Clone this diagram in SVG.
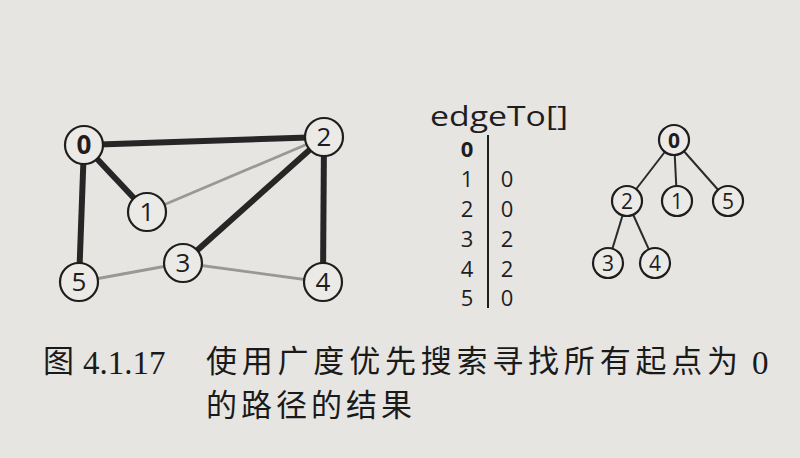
<svg xmlns="http://www.w3.org/2000/svg" width="800" height="458" viewBox="0 0 800 458">
<style>
.bg{fill:#e7e5e2}
.n{fill:#eceae7;stroke:#1e1e1e;stroke-width:2.2}
.nt{font-family:"Open Sans","Noto Sans",sans-serif;font-size:26px;fill:#1e1e1e;text-anchor:middle}
.tt{font-family:"Open Sans","Noto Sans",sans-serif;font-size:21px;fill:#1e1e1e;text-anchor:middle}
.thick{stroke:#262626;stroke-width:6;stroke-linecap:butt}
.thin{stroke:#9a9896;stroke-width:2.8}
.tree{stroke:#2a2a2a;stroke-width:2}
.tab{font-family:"Open Sans","Noto Sans",sans-serif;font-size:22px;fill:#1e1e1e;text-anchor:middle}
.cap{font-family:"Liberation Serif","Noto Sans CJK SC",serif;fill:#1a1a1a}
.cjk{font-family:"Noto Sans CJK SC",sans-serif;font-size:31px;fill:#1a1a1a}
</style>
<rect class="bg" x="0" y="0" width="800" height="458"/>
<g id="connectors">
<line class="thin" x1="147" y1="212" x2="324" y2="137"/>
<line class="thin" x1="79" y1="282" x2="183" y2="263"/>
<line class="thin" x1="183" y1="263" x2="323" y2="282"/>
<line class="thick" x1="84" y1="145" x2="324" y2="137"/>
<line class="thick" x1="84" y1="145" x2="147" y2="212"/>
<line class="thick" x1="84" y1="145" x2="79" y2="282"/>
<line class="thick" x1="324" y1="137" x2="183" y2="263"/>
<line class="thick" x1="324" y1="137" x2="323" y2="282"/>
<line class="tree" x1="674" y1="140" x2="627" y2="201"/>
<line class="tree" x1="674" y1="140" x2="677" y2="201"/>
<line class="tree" x1="674" y1="140" x2="728" y2="201"/>
<line class="tree" x1="627" y1="201" x2="608" y2="263"/>
<line class="tree" x1="627" y1="201" x2="655" y2="263"/>
</g>
<g id="g0"><circle class="n" cx="84" cy="145" r="19"/><text class="nt" x="84" y="154" font-weight="bold">0</text></g>
<g id="g1"><circle class="n" cx="147" cy="212" r="19"/><text class="nt" x="147" y="221">1</text></g>
<g id="g2"><circle class="n" cx="324" cy="137" r="19"/><text class="nt" x="324" y="146">2</text></g>
<g id="g3"><circle class="n" cx="183" cy="263" r="19"/><text class="nt" x="183" y="272">3</text></g>
<g id="g4"><circle class="n" cx="323" cy="282" r="19"/><text class="nt" x="323" y="291">4</text></g>
<g id="g5"><circle class="n" cx="79" cy="282" r="19"/><text class="nt" x="79" y="291">5</text></g>
<g id="edgeTo">
<text x="430" y="126" font-family="'Open Sans','Noto Sans',sans-serif" font-size="28" fill="#1e1e1e" textLength="138" lengthAdjust="spacingAndGlyphs">edgeTo[]</text>
<line x1="488" y1="135" x2="488" y2="308" stroke="#1e1e1e" stroke-width="2"/>
<text class="tab" x="467" y="157" font-weight="bold">0</text>
<text class="tab" x="467" y="187">1</text><text class="tab" x="507" y="187">0</text>
<text class="tab" x="467" y="217">2</text><text class="tab" x="507" y="217">0</text>
<text class="tab" x="467" y="247">3</text><text class="tab" x="507" y="247">2</text>
<text class="tab" x="467" y="277">4</text><text class="tab" x="507" y="277">2</text>
<text class="tab" x="467" y="306">5</text><text class="tab" x="507" y="306">0</text>
</g>
<g id="t0"><circle class="n" cx="674" cy="140" r="15"/><text class="tt" x="674" y="147.5" font-weight="bold">0</text></g>
<g id="t2"><circle class="n" cx="627" cy="201" r="15"/><text class="tt" x="627" y="208.5">2</text></g>
<g id="t1"><circle class="n" cx="677" cy="201" r="15"/><text class="tt" x="677" y="208.5">1</text></g>
<g id="t5"><circle class="n" cx="728" cy="201" r="15"/><text class="tt" x="728" y="208.5">5</text></g>
<g id="t3"><circle class="n" cx="608" cy="263" r="15"/><text class="tt" x="608" y="270.5">3</text></g>
<g id="t4"><circle class="n" cx="655" cy="263" r="15"/><text class="tt" x="655" y="270.5">4</text></g>
<g id="caption">
<text class="cjk" x="43" y="372">图</text>
<text class="cap" x="83" y="374" font-size="33">4.1.17</text>
<text class="cjk" x="206" y="372" textLength="532" lengthAdjust="spacing">使用广度优先搜索寻找所有起点为</text>
<text class="cap" x="752" y="374" font-size="33">0</text>
<text class="cjk" x="206" y="416" textLength="206" lengthAdjust="spacing">的路径的结果</text>
</g>
</svg>
